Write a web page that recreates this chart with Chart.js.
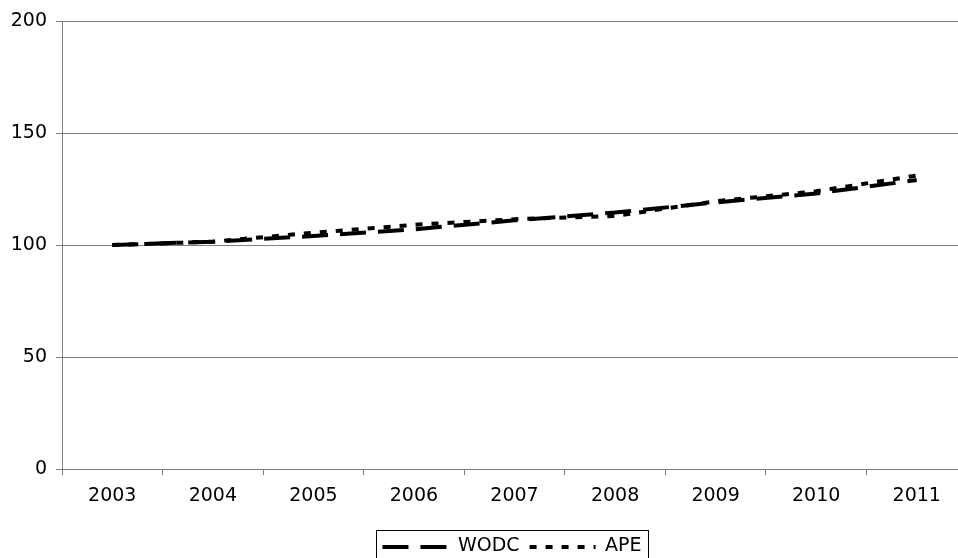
<!DOCTYPE html>
<html><head><meta charset="utf-8">
<script src="https://cdn.jsdelivr.net/npm/chart.js@4/dist/chart.umd.min.js"></script>
<style>html,body{margin:0;padding:0;background:#fff;overflow:hidden}
#wrap{width:1024px;height:566px;position:relative}</style>
</head><body><div id="wrap"><canvas id="c" width="1024" height="566"></canvas></div>
<script>
const years = ['2003','2004','2005','2006','2007','2008','2009','2010','2011'];
const wodc = [100, 101.5, 104, 107, 111, 114.5, 119, 123, 129];
const ape  = [100, 101.5, 105.5, 109, 111.5, 113, 119.5, 124, 131];
const yMin = 0, yMax = 200, yStep = 50;

const FONT = {family: "'DejaVu Sans', Verdana, sans-serif", size: 19};
const GRID = '#808080';
const SAMPLE_W = 66;

const legendBorder = {
  id: 'legendBorder',
  afterDraw(chart) {
    const hb = chart.legend && chart.legend.legendHitBoxes;
    if (!hb || !hb.length) return;
    const ctx = chart.ctx;
    ctx.save();
    hb.forEach((box, i) => {
      const ds = chart.data.datasets[i];
      const y = Math.round(box.top + box.height / 2);
      ctx.beginPath();
      ctx.setLineDash(ds.borderDash || []);
      ctx.lineDashOffset = 0;
      ctx.lineCap = 'butt';
      ctx.strokeStyle = ds.borderColor;
      ctx.lineWidth = ds.borderWidth;
      ctx.moveTo(box.left, y);
      ctx.lineTo(box.left + SAMPLE_W, y);
      ctx.stroke();
    });
    const last = hb[hb.length - 1];
    const l = Math.round(hb[0].left - 6) + 0.5;
    const r = Math.round(last.left + last.width + 6) + 0.5;
    const t = Math.round(hb[0].top - 7) + 0.5;
    const b = t + 33;
    ctx.setLineDash([]);
    ctx.strokeStyle = '#000';
    ctx.lineWidth = 1;
    ctx.strokeRect(l, t, r - l, b - t);
    ctx.restore();
  }
};

new Chart(document.getElementById('c'), {
  type: 'line',
  data: {
    labels: years,
    datasets: [
      {label: 'WODC', data: wodc, borderColor: '#000', backgroundColor: '#000', borderWidth: 4,
       borderDash: [26, 12], borderCapStyle: 'butt', pointRadius: 0, tension: 0, fill: false},
      {label: 'APE', data: ape, borderColor: '#000', backgroundColor: '#000', borderWidth: 4,
       borderDash: [7, 9], borderCapStyle: 'butt', pointRadius: 0, tension: 0, fill: false}
    ]
  },
  options: {
    responsive: false,
    animation: false,
    devicePixelRatio: 1,
    layout: {padding: {top: 21, left: 0, right: 0, bottom: 0}},
    plugins: {
      tooltip: {enabled: false},
      legend: {
        position: 'bottom',
        labels: {
          font: FONT, color: '#000',
          usePointStyle: true, pointStyle: 'line', pointStyleWidth: SAMPLE_W,
          boxHeight: 19, padding: 10,
          generateLabels: chart => Chart.defaults.plugins.legend.labels.generateLabels(chart)
            .map(it => Object.assign(it, {strokeStyle: 'rgba(0,0,0,0)', fillStyle: 'rgba(0,0,0,0)', lineWidth: 0}))
        }
      }
    },
    scales: {
      x: {
        offset: true,
        grid: {offset: true, drawOnChartArea: false, color: GRID, tickLength: 6},
        border: {display: true, color: GRID},
        ticks: {font: FONT, color: '#000', padding: 10, maxRotation: 0, autoSkip: false},
        afterFit: s => { s.height = 58; }
      },
      y: {
        min: yMin, max: yMax,
        grid: {color: GRID, tickLength: 6},
        border: {display: true, color: GRID},
        ticks: {stepSize: yStep, font: FONT, color: '#000', padding: 9},
        afterFit: s => { s.width = 62; }
      },
      y2: {
        position: 'right', display: true,
        grid: {display: false, drawTicks: false},
        border: {display: false},
        ticks: {display: false},
        afterFit: s => { s.width = 57; }
      }
    }
  },
  plugins: [legendBorder]
});
</script>
</body></html>
